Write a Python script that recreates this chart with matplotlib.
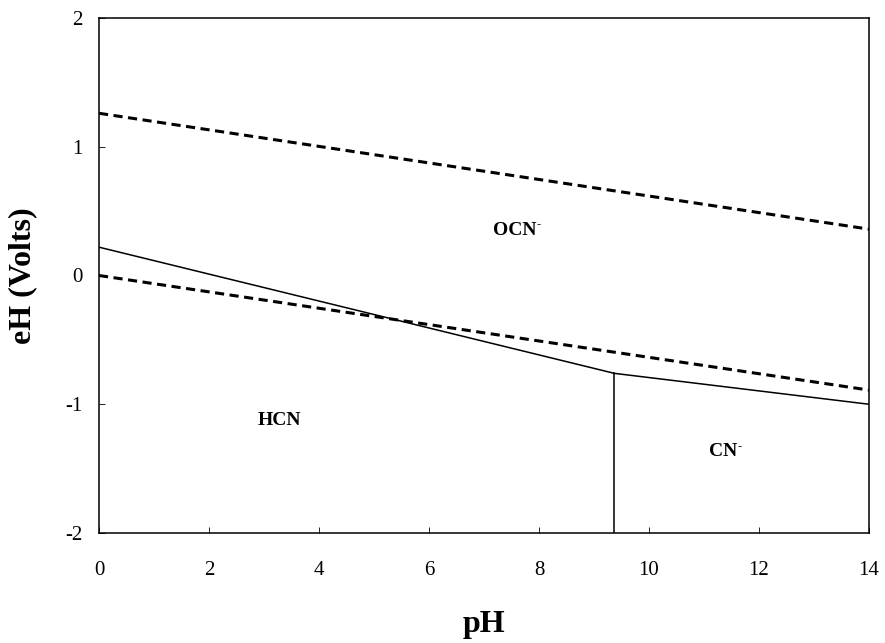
import matplotlib.pyplot as plt

plt.rcParams['font.family'] = ['Liberation Serif', 'DejaVu Serif']
plt.rcParams['axes.unicode_minus'] = False

# water stability limits (dashed)
upper_ph = [0, 14]
upper_eh = [1.26, 0.36]
lower_ph = [0, 14]
lower_eh = [0.0, -0.89]

# cyanide boundaries (solid)
ocn_ph = [0, 9.37, 14]
ocn_eh = [0.22, -0.76, -1.0]
pka_ph = [9.37, 9.37]
pka_eh = [-0.76, -2.0]

labels = ['OCN', 'HCN', 'CN']
sup = ['-', '', '-']
label_ph = [7.95, 3.68, 11.6]
label_eh = [0.35, -1.13, -1.37]

fig = plt.figure(figsize=(8.85, 6.43), dpi=100)
ax = fig.add_axes([99 / 885, 1 - 533 / 643, 770 / 885, 515 / 643])

ax.plot(upper_ph, upper_eh, color='black', lw=2.2, dashes=(3, 1.8))
ax.plot(lower_ph, lower_eh, color='black', lw=2.2, dashes=(3, 1.8))
ax.plot(ocn_ph, ocn_eh, color='black', lw=1.1)
ax.plot(pka_ph, pka_eh, color='black', lw=1.1)

# species names, with a small raised '-' for the anions
for name, s, x, y in zip(labels, sup, label_ph, label_eh):
    ax.text(x, y, name, ha='right', va='center', fontsize=14, fontweight='bold')
    if s:
        ax.annotate(s, (x, y), xytext=(0.5, 4.5), textcoords='offset points',
                    ha='left', va='center', fontsize=9, fontweight='bold')

ax.set_xlim(0, 14)
ax.set_ylim(-2, 2)
ax.set_xticks(range(0, 15, 2))
ax.set_yticks([-2, -1, 0, 1, 2])
ax.tick_params(direction='in', length=4, width=0.6, labelsize=15, colors='black')
ax.tick_params(axis='x', pad=20)
ax.tick_params(axis='y', pad=12)
for sp in ax.spines.values():
    sp.set_linewidth(1.1)

ax.set_xlabel('pH', fontsize=23, fontweight='bold', labelpad=22)
ax.set_ylabel('eH (Volts)', fontsize=23, fontweight='bold', labelpad=20)

fig.savefig('out.png', dpi=100)
